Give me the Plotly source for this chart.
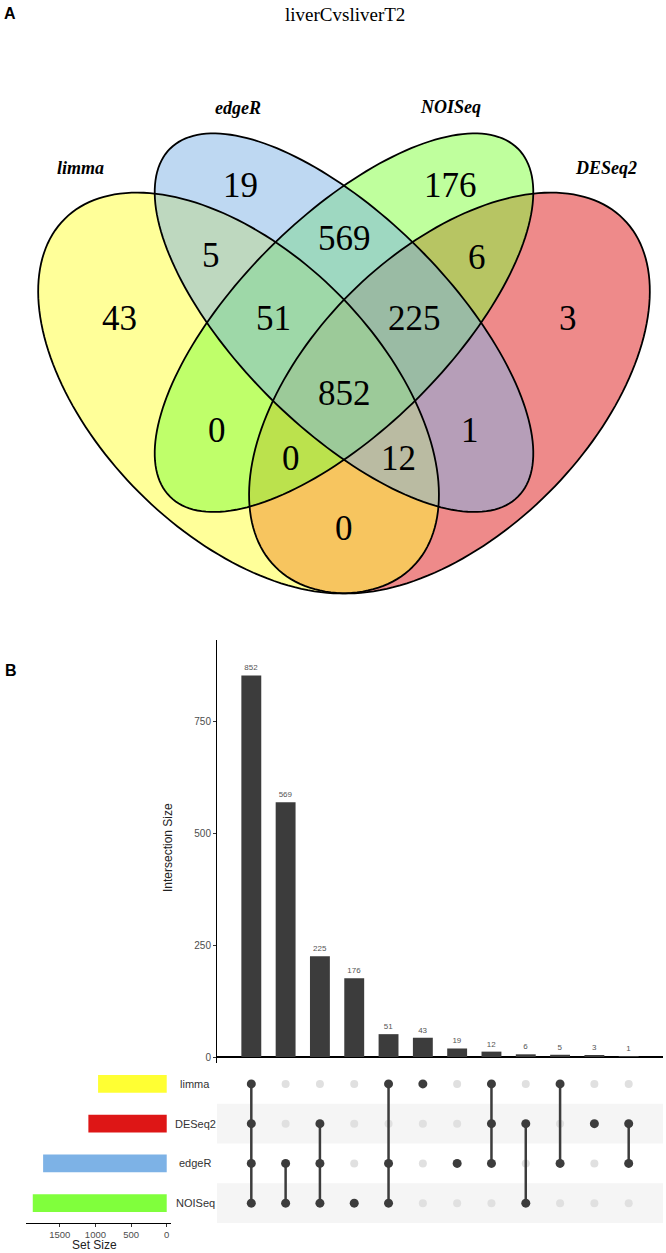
import numpy as np
import plotly.graph_objects as go

# ---- data ----
title = "liverCvsliverT2"
set_names = ["limma", "edgeR", "NOISeq", "DESeq2"]
set_colors = {"limma": (255, 255, 51), "edgeR": (125, 178, 230),
              "NOISeq": (128, 255, 60), "DESeq2": (222, 22, 22)}

# venn region counts
venn_regions = ["limma", "edgeR", "NOISeq", "DESeq2",
                "limma&edgeR", "edgeR&NOISeq", "NOISeq&DESeq2",
                "limma&edgeR&NOISeq", "edgeR&NOISeq&DESeq2", "all",
                "limma&NOISeq", "limma&NOISeq&DESeq2", "limma&edgeR&DESeq2",
                "edgeR&DESeq2", "limma&DESeq2"]
venn_counts = [43, 19, 176, 3, 5, 569, 6, 51, 225, 852, 0, 0, 12, 1, 0]

# upset panel B
upset_sets = ["limma", "DESeq2", "edgeR", "NOISeq"]
set_sizes = [963, 1099, 1734, 1879]
inter_sizes = [852, 569, 225, 176, 51, 43, 19, 12, 6, 5, 3, 1]
inter_members = [
    ["limma", "DESeq2", "edgeR", "NOISeq"],
    ["edgeR", "NOISeq"],
    ["DESeq2", "edgeR", "NOISeq"],
    ["NOISeq"],
    ["limma", "edgeR", "NOISeq"],
    ["limma"],
    ["edgeR"],
    ["limma", "DESeq2", "edgeR"],
    ["DESeq2", "NOISeq"],
    ["limma", "edgeR"],
    ["DESeq2"],
    ["DESeq2", "edgeR"],
]

# ---- layout geometry (pixels) ----
W, H = 666, 1253
S = 703.0            # venn unit size in px
CX, CY = 344.0, 393.0


def vx(u):
    return CX + (u - 0.5) * S


def vy(v):
    return CY - (v - 0.47) * S


# (center x, center y, a, b, angle deg) in venn units, screen angle
ellipses = {
    "limma": (0.35, 0.47, 0.35, 0.20, 45),
    "edgeR": (0.50, 0.57, 0.35, 0.15, 45),
    "NOISeq": (0.50, 0.57, 0.35, 0.15, -45),
    "DESeq2": (0.65, 0.47, 0.35, 0.20, -45),
}

region_pos = [(119, 318), (240, 185), (450, 185), (568, 318),
              (211, 255), (344, 238), (477, 257),
              (273, 318), (414, 318), (344, 393),
              (217, 430), (291, 458), (398, 458),
              (470, 430), (344, 528)]

label_pos = {"limma": (80, 168), "edgeR": (238, 108),
             "NOISeq": (450, 107), "DESeq2": (606, 168)}


def ellipse_path(name):
    u, v, a, b, ang = ellipses[name]
    cx, cy = vx(u), vy(v)
    a, b = a * S, b * S
    th = np.deg2rad(ang)
    t = np.linspace(0, 2 * np.pi, 181)
    xs = cx + a * np.cos(t) * np.cos(th) - b * np.sin(t) * np.sin(th)
    ys = cy + a * np.cos(t) * np.sin(th) + b * np.sin(t) * np.cos(th)
    pts = [f"{x:.2f},{y:.2f}" for x, y in zip(xs, ys)]
    return "M " + " L ".join(pts) + " Z"


def rgb(c, a=1.0):
    return f"rgba({c[0]},{c[1]},{c[2]},{a})"


def note(x, y, text, size, family="Liberation Sans", color="black", **kw):
    d = dict(x=x, y=y, text=text, showarrow=False, xanchor="center", yanchor="middle",
             font=dict(family=family, size=size, color=color))
    d.update(kw)
    return d


fig = go.Figure()

shapes = []
draw_order = ["DESeq2", "limma", "NOISeq", "edgeR"]
for name in draw_order:
    shapes.append(dict(type="path", path=ellipse_path(name), xref="x4", yref="y4",
                       fillcolor=rgb(set_colors[name], 0.5), line=dict(width=0)))
for name in draw_order:
    shapes.append(dict(type="path", path=ellipse_path(name), xref="x4", yref="y4",
                       fillcolor="rgba(0,0,0,0)", line=dict(color="black", width=1.8)))

annotations = []
for cnt, (px, py) in zip(venn_counts, region_pos):
    annotations.append(note(px, py, str(cnt), 35, "Liberation Serif", xref="x4", yref="y4"))
for name in set_names:
    px, py = label_pos[name]
    annotations.append(note(px, py, f"<b><i>{name}</i></b>", 18, "Liberation Serif",
                            xref="x4", yref="y4"))
annotations.append(note(345, 14, title, 19, "Liberation Serif", xref="x4", yref="y4"))
annotations.append(note(10, 13, "<b>A</b>", 16, xref="x4", yref="y4"))
annotations.append(note(11 / W, 1 - 670 / H, "<b>B</b>", 16, xref="paper", yref="paper"))

# ---- upset: intersection bars ----
cols = list(range(len(inter_sizes)))
fig.add_trace(go.Bar(x=cols, y=inter_sizes, xaxis="x", yaxis="y", width=0.58,
                     marker=dict(color="#3C3C3C", line=dict(width=0)),
                     text=inter_sizes, textposition="outside", cliponaxis=False,
                     textfont=dict(family="Liberation Sans", size=8, color="#555555"),
                     hoverinfo="skip"))

# ---- matrix ----
row_of = {s: 3 - i for i, s in enumerate(upset_sets)}
for r in [row_of["DESeq2"], row_of["NOISeq"]]:
    shapes.append(dict(type="rect", xref="x2 domain", yref="y2", x0=0, x1=1,
                       y0=r - 0.5, y1=r + 0.5, fillcolor="#F5F5F5",
                       line=dict(width=0), layer="below"))

gx, gy = [], []
for c, mem in zip(cols, inter_members):
    for s in upset_sets:
        if s not in mem:
            gx.append(c)
            gy.append(row_of[s])
fig.add_trace(go.Scatter(x=gx, y=gy, xaxis="x2", yaxis="y2", mode="markers",
                         marker=dict(size=8, color="#E0E0E0"), hoverinfo="skip"))

lx, ly = [], []
for c, mem in zip(cols, inter_members):
    rows = [row_of[s] for s in mem]
    if len(rows) > 1:
        lx += [c, c, None]
        ly += [min(rows), max(rows), None]
fig.add_trace(go.Scatter(x=lx, y=ly, xaxis="x2", yaxis="y2", mode="lines",
                         line=dict(color="#3C3C3C", width=2.5), hoverinfo="skip"))

dx, dy = [], []
for c, mem in zip(cols, inter_members):
    for s in mem:
        dx.append(c)
        dy.append(row_of[s])
fig.add_trace(go.Scatter(x=dx, y=dy, xaxis="x2", yaxis="y2", mode="markers",
                         marker=dict(size=9, color="#3C3C3C"), hoverinfo="skip"))

# ---- set size bars ----
fig.add_trace(go.Bar(x=set_sizes, y=[row_of[s] for s in upset_sets], orientation="h",
                     xaxis="x3", yaxis="y3", width=0.45,
                     marker=dict(color=[rgb(set_colors[s]) for s in upset_sets],
                                 line=dict(width=0)),
                     hoverinfo="skip"))

for s in upset_sets:
    annotations.append(note(195 / W, row_of[s], s, 11, color="#333333",
                            xref="paper", yref="y2"))
annotations.append(note(168 / W, 1 - 847 / H, "Intersection Size", 12, color="#222222",
                        xref="paper", yref="paper", textangle=-90))
annotations.append(note(94 / W, 1 - 1245 / H, "Set Size", 12, color="#222222",
                        xref="paper", yref="paper"))

mat_dom = [1 - 1223 / H, 1 - 1064 / H]
bar_x_dom = [217 / W, 663 / W]

fig.update_layout(
    width=W, height=H, margin=dict(l=0, r=0, t=0, b=0),
    paper_bgcolor="white", plot_bgcolor="rgba(0,0,0,0)", showlegend=False,
    shapes=shapes, annotations=annotations,
    xaxis=dict(domain=bar_x_dom, range=[-1, 12], visible=False, anchor="y"),
    yaxis=dict(domain=[1 - 1063 / H, 1 - 640 / H], range=[-13.4, 931], anchor="x",
               tickvals=[0, 250, 500, 750], ticks="outside", ticklen=3, tickcolor="#333333",
               showline=True, linecolor="black", linewidth=1, showgrid=False,
               zeroline=True, zerolinecolor="black", zerolinewidth=1.5,
               tickfont=dict(family="Liberation Sans", size=10, color="#4D4D4D")),
    xaxis2=dict(domain=bar_x_dom, range=[-1, 12], visible=False, anchor="y2"),
    yaxis2=dict(domain=mat_dom, range=[-0.5, 3.5], visible=False, anchor="x2"),
    xaxis3=dict(domain=[26 / W, 171 / W], range=[1974, -60], anchor="y3",
                tickvals=[0, 500, 1000, 1500], ticks="outside", ticklen=3,
                tickcolor="#333333", showline=True, linecolor="black", linewidth=1,
                showgrid=False, zeroline=False,
                tickfont=dict(family="Liberation Sans", size=9.5, color="#4D4D4D")),
    yaxis3=dict(domain=mat_dom, range=[-0.5, 3.5], visible=False, anchor="x3"),
    xaxis4=dict(domain=[0, 1], range=[0, W], visible=False, anchor="y4"),
    yaxis4=dict(domain=[1 - 620 / H, 1], range=[620, 0], visible=False, anchor="x4"),
)

fig.write_html("out.html", config={"displayModeBar": False},
               post_script="document.body.style.margin='0';")
